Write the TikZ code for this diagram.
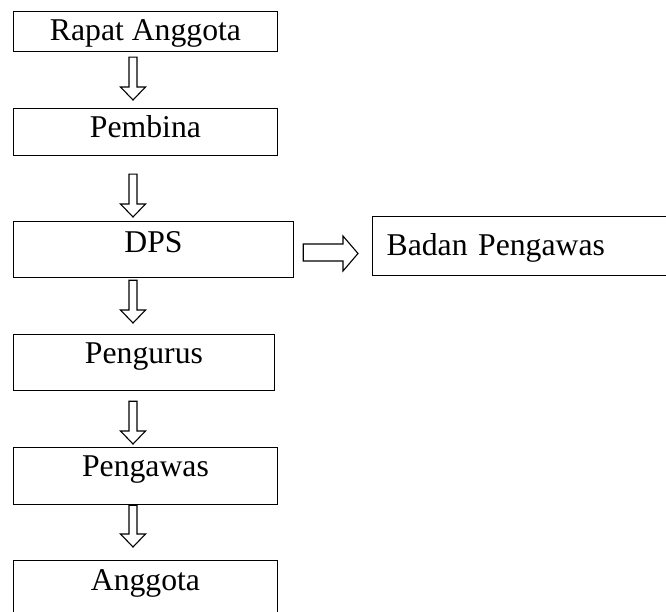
\documentclass[tikz,border=0pt]{standalone}
\usepackage{fontspec}
\setmainfont{Liberation Serif}
\usetikzlibrary{calc}
\tikzset{
  boxnode/.style={draw, line width=1.2pt, anchor=north west, inner xsep=0pt, inner ysep=0pt,
    font=\fontsize{31.7}{38}\selectfont, align=center},
  blk/.style={draw, line width=1.1pt, line join=miter, fill=white}
}
\newcommand\vblk[4]{%
  \draw[blk] let \p1=(#1.south), \p2=(#2.north) in
   (129pt,\y1-#3) -- (137pt,\y1-#3) -- (137pt,\y2+#4+13pt) -- (145.5pt,\y2+#4+13pt)
   -- (133pt,\y2+#4) -- (120.5pt,\y2+#4+13pt) -- (129pt,\y2+#4+13pt) -- cycle;}
\begin{document}
\begin{tikzpicture}
\clip (0pt,0pt) rectangle (666pt,-612pt);
\fill[white] (0pt,0pt) rectangle (666pt,-612pt);
\node[boxnode, minimum width=264.3pt, text height=29.3pt, text depth=11pt] (rapat) at (12.7pt,-10.7pt) {Rapat Anggota};
\node[boxnode, minimum width=264.3pt, text height=29.3pt, text depth=18pt] (pembina) at (12.7pt,-107.7pt) {Pembina};
\node[boxnode, minimum width=280.3pt, text height=30.7pt, text depth=25.3pt] (dps) at (12.7pt,-221pt) {DPS};
\node[boxnode, minimum width=261.3pt, text height=29.3pt, text depth=26.7pt] (pengurus) at (12.7pt,-334pt) {Pengurus};
\node[boxnode, minimum width=264.3pt, text height=29pt, text depth=28pt] (pengawas) at (12.7pt,-447pt) {Pengawas};
\node[boxnode, minimum width=264.3pt, text height=30pt, text depth=40pt] (anggota) at (12.7pt,-560pt) {Anggota};
\node[boxnode, inner xsep=14pt, text width=290pt, align=left, text height=39pt, text depth=20pt] (badan) at (372pt,-216pt) {Badan Pengawas};
\vblk{rapat}{pembina}{5pt}{7.7pt}
\vblk{pembina}{dps}{18pt}{4pt}
\vblk{dps}{pengurus}{2pt}{11pt}
\vblk{pengurus}{pengawas}{10pt}{3pt}
\vblk{pengawas}{anggota}{0pt}{13pt}
\draw[blk] let \p1=(dps.east), \p2=(badan.west) in
  (\x1+9pt,-244pt) -- (343pt,-244pt) -- (343pt,-236pt) -- (\x2-14pt,-253.5pt)
  -- (343pt,-271pt) -- (343pt,-261pt) -- (\x1+9pt,-261pt) -- cycle;
\end{tikzpicture}
\end{document}
